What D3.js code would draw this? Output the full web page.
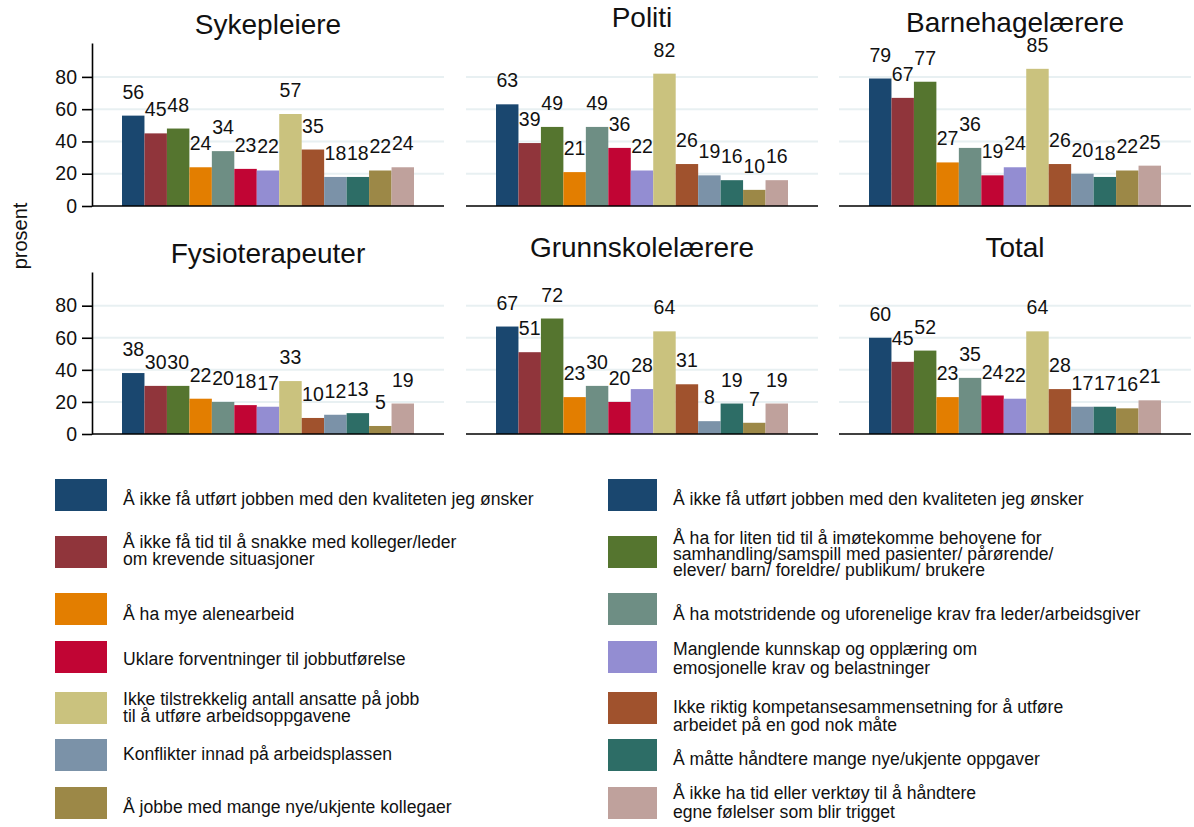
<!DOCTYPE html>
<html>
<head>
<meta charset="utf-8">
<script src="https://cdn.jsdelivr.net/npm/d3@7/dist/d3.min.js"></script>
<style>
  html, body { margin: 0; padding: 0; background: #ffffff; }
  svg { display: block; font-family: "Liberation Sans", Arial, Helvetica, sans-serif; }
</style>
</head>
<body>
<svg id="chart" width="1194" height="827"></svg>
<script>
// ---------------- DATA ----------------
const panels = ["Sykepleiere", "Politi", "Barnehagelærere", "Fysioterapeuter", "Grunnskolelærere", "Total"];

const seriesLabels = [
  "Å ikke få utført jobben med den kvaliteten jeg ønsker",
  "Å ikke få tid til å snakke med kolleger/leder\nom krevende situasjoner",
  "Å ha for liten tid til å imøtekomme behovene for\nsamhandling/samspill med pasienter/ pårørende/\nelever/ barn/ foreldre/ publikum/ brukere",
  "Å ha mye alenearbeid",
  "Å ha motstridende og uforenelige krav fra leder/arbeidsgiver",
  "Uklare forventninger til jobbutførelse",
  "Manglende kunnskap og opplæring om\nemosjonelle krav og belastninger",
  "Ikke tilstrekkelig antall ansatte på jobb\ntil å utføre arbeidsoppgavene",
  "Ikke riktig kompetansesammensetning for å utføre\narbeidet på en god nok måte",
  "Konflikter innad på arbeidsplassen",
  "Å måtte håndtere mange nye/ukjente oppgaver",
  "Å jobbe med mange nye/ukjente kollegaer",
  "Å ikke ha tid eller verktøy til å håndtere\negne følelser som blir trigget"
];

const valuesSykepleiere      = [56, 45, 48, 24, 34, 23, 22, 57, 35, 18, 18, 22, 24];
const valuesPoliti           = [63, 39, 49, 21, 49, 36, 22, 82, 26, 19, 16, 10, 16];
const valuesBarnehagelaerere = [79, 67, 77, 27, 36, 19, 24, 85, 26, 20, 18, 22, 25];
const valuesFysioterapeuter  = [38, 30, 30, 22, 20, 18, 17, 33, 10, 12, 13, 5, 19];
const valuesGrunnskolelaerere= [67, 51, 72, 23, 30, 20, 28, 64, 31, 8, 19, 7, 19];
const valuesTotal            = [60, 45, 52, 23, 35, 24, 22, 64, 28, 17, 17, 16, 21];

const yTickValues = [0, 20, 40, 60, 80];
const yAxisTitle = "prosent";

// legend order (row-major, two columns) – first key is repeated as in the original
const legendOrder = [0, 0, 1, 2, 3, 4, 5, 6, 7, 8, 9, 10, 11, 12];

// ---------------- STYLE / LAYOUT ----------------
const colors = ["#1a476f", "#90353b", "#55752f", "#e37e00", "#6e8e84", "#c10534",
                "#938dd2", "#cac27e", "#a0522d", "#7b92a8", "#2d6d66", "#9c8847", "#bfa19c"];

const allValues = [valuesSykepleiere, valuesPoliti, valuesBarnehagelaerere,
                   valuesFysioterapeuter, valuesGrunnskolelaerere, valuesTotal];

const layout = {
  colX: [92, 466, 839],
  plotW: 352,
  rowTop: [43, 272],
  rowBottom: [206, 434],
  titleBaseline: [34, 27, 32, 263, 257, 257],
  barInset: 30,
  labelGap: 17,
  yMax: 101
};

const legendLayout = {
  swatchX: [55, 608],
  swatchW: [52, 49],
  swatchH: 32,
  textX: [123, 673],
  rowTop: [479, 536, 593, 641, 692, 739, 787],
  // baseline offsets from the swatch top for each line, per legend slot
  lineOffsets: [
    [26], [26],
    [12, 29], [8, 24, 40],
    [27], [27],
    [24], [14, 33],
    [13, 30], [21, 39],
    [21], [26],
    [26], [12, 31]
  ]
};

const svg = d3.select("#chart");

// ---------------- PANELS ----------------
panels.forEach((name, p) => {
  const col = p % 3, row = Math.floor(p / 3);
  const x0 = layout.colX[col];
  const vals = allValues[p];

  const x = d3.scaleBand()
    .domain(d3.range(vals.length))
    .range([x0 + layout.barInset, x0 + layout.plotW - layout.barInset])
    .paddingInner(0).paddingOuter(0);

  const y = d3.scaleLinear()
    .domain([0, layout.yMax])
    .range([layout.rowBottom[row], layout.rowTop[row]]);

  const g = svg.append("g");

  // gridlines
  g.selectAll("line.grid")
    .data(yTickValues.filter(d => d > 0))
    .join("line")
    .attr("class", "grid")
    .attr("x1", x0).attr("x2", x0 + layout.plotW)
    .attr("y1", d => y(d)).attr("y2", d => y(d))
    .attr("stroke", "#e8f0f2").attr("stroke-width", 2);

  // bars
  g.selectAll("rect.bar")
    .data(vals)
    .join("rect")
    .attr("class", "bar")
    .attr("x", (d, i) => x(i))
    .attr("width", x.bandwidth())
    .attr("y", d => y(d))
    .attr("height", d => y(0) - y(d))
    .attr("fill", (d, i) => colors[i]);

  // value labels
  g.selectAll("text.val")
    .data(vals)
    .join("text")
    .attr("class", "val")
    .attr("x", (d, i) => x(i) + x.bandwidth() / 2)
    .attr("y", d => y(d) - layout.labelGap)
    .attr("text-anchor", "middle")
    .attr("font-size", "19.5px")
    .attr("fill", "#111")
    .text(d => d);

  // baseline
  g.append("line")
    .attr("x1", x0).attr("x2", x0 + layout.plotW)
    .attr("y1", y(0)).attr("y2", y(0))
    .attr("stroke", "#000").attr("stroke-width", 1.6);

  // y axis for first column
  if (col === 0) {
    const ax = g.append("g")
      .attr("transform", `translate(${x0},0)`)
      .call(d3.axisLeft(y).tickValues(yTickValues).tickSize(10).tickSizeOuter(0).tickPadding(5));
    ax.select(".domain").attr("stroke", "#000").attr("stroke-width", 1.6);
    ax.selectAll(".tick line").attr("stroke", "#000").attr("stroke-width", 1.6);
    ax.selectAll(".tick text")
      .attr("font-size", "19.5px")
      .attr("font-family", "'Liberation Sans', Arial, Helvetica, sans-serif")
      .attr("fill", "#111");
  }

  // panel title
  g.append("text")
    .attr("x", x0 + layout.plotW / 2)
    .attr("y", layout.titleBaseline[p])
    .attr("text-anchor", "middle")
    .attr("font-size", "28px")
    .attr("fill", "#111")
    .text(name);
});

// y axis title
svg.append("text")
  .attr("transform", "translate(27,236) rotate(-90)")
  .attr("text-anchor", "middle")
  .attr("font-size", "20px")
  .attr("fill", "#111")
  .text(yAxisTitle);

// ---------------- LEGEND ----------------
const leg = svg.append("g");
legendOrder.forEach((si, k) => {
  const c = k % 2, r = Math.floor(k / 2);
  const top = legendLayout.rowTop[r];
  leg.append("rect")
    .attr("x", legendLayout.swatchX[c])
    .attr("y", top)
    .attr("width", legendLayout.swatchW[c])
    .attr("height", legendLayout.swatchH)
    .attr("fill", colors[si]);
  const lines = seriesLabels[si].split("\n");
  const offs = legendLayout.lineOffsets[k];
  const t = leg.append("text")
    .attr("font-size", "17.6px")
    .attr("fill", "#111");
  lines.forEach((ln, j) => {
    t.append("tspan")
      .attr("x", legendLayout.textX[c])
      .attr("y", top + offs[j])
      .text(ln);
  });
});
</script>
</body>
</html>
